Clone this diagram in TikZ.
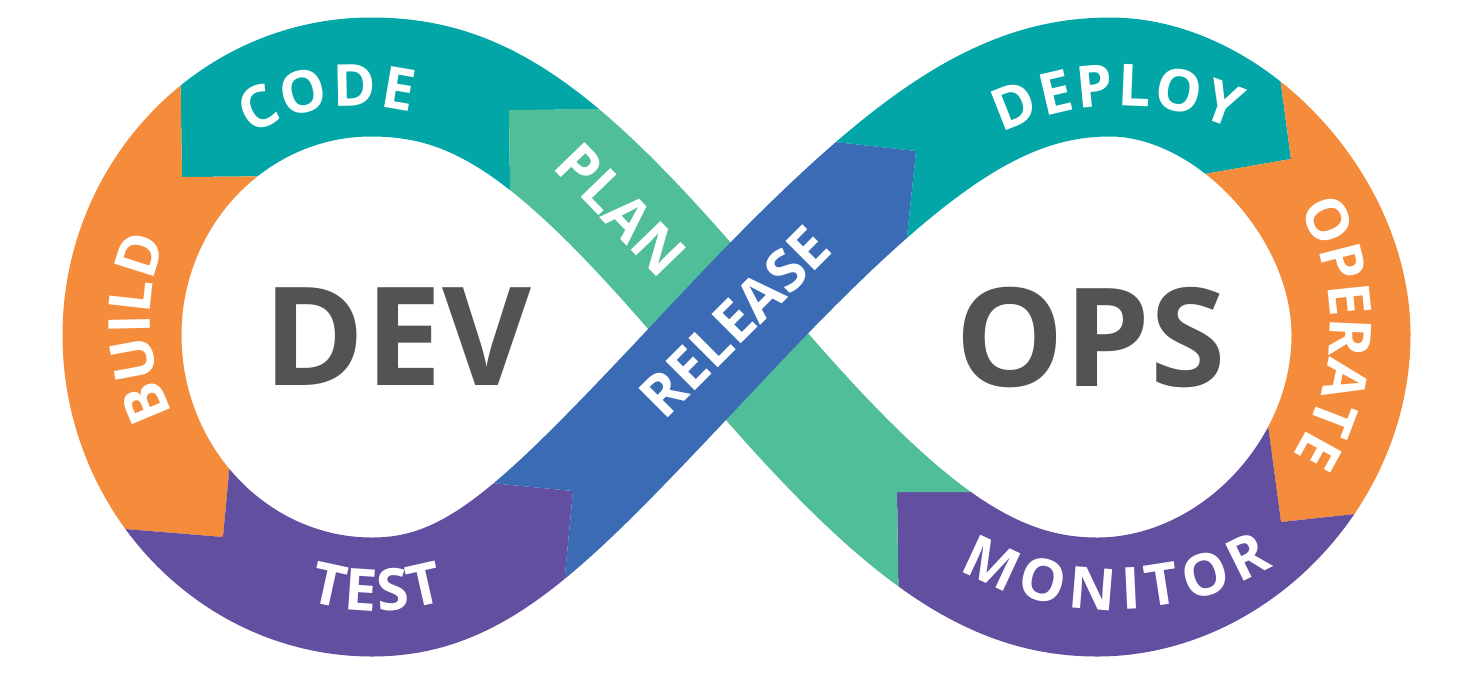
\documentclass[tikz,border=0pt]{standalone}
\usepackage{fontspec}
\setmainfont{Open Sans}
\usetikzlibrary{decorations.text}

\definecolor{bandteal}{HTML}{03A6A7}
\definecolor{bandorange}{HTML}{F58C3B}
\definecolor{bandpurple}{HTML}{634FA0}
\definecolor{bandblue}{HTML}{3A6BB4}
\definecolor{bandgreen}{HTML}{50BE98}
\definecolor{hubgray}{HTML}{535353}

\newcommand\bandfont{\fontsize{29}{32}\selectfont\bfseries}
% centre lines of the two loops and of the two crossing strands
\newcommand\devloop{(X) .. controls (561,-132) and (481,-77) .. (371,-77) .. controls (234,-77) and (122,-193) .. (122,-335) .. controls (122,-479) and (234,-597) .. (372,-597) .. controls (482,-597) and (550,-520) .. (X)}
\newcommand\opsloop{(X) .. controls (906,-142) and (1000,-77) .. (1110,-77) .. controls (1230,-77) and (1351,-206) .. (1351,-335) .. controls (1351,-474) and (1232,-597) .. (1097,-597) .. controls (987,-597) and (895,-530) .. (X)}
\newcommand\planstrand{(1097,-597) .. controls (987,-597) and (895,-530) .. (X) .. controls (561,-132) and (481,-77) .. (371,-77)}
\newcommand\releasestrand{(372,-597) .. controls (482,-597) and (550,-520) .. (X) .. controls (906,-142) and (1000,-77) .. (1110,-77)}

\tikzset{
  band/.style={line width=59.5pt},
  hub/.style={font=\fontsize{68.5}{70}\selectfont\bfseries, text=hubgray, inner sep=0pt},
  strandlabel/.style={font=\bandfont, text=white, inner sep=0pt},
  bandlabel/.style n args={2}{decorate, decoration={text along path, text align=center, text color=white,
    text={|\bandfont\kern#1|#2}}}
}

\begin{document}
\begin{tikzpicture}[x=0.5pt,y=0.5pt]
\useasboundingbox (0,0) rectangle (1484,-677);
\coordinate (X) at (728,-331);

% DEV loop
\begin{scope}
  \clip (179,20) -- (182,-177) -- (300,-176) -- (400,-300) -- (511,-260) -- (509,-110) -- (680,-109) -- (680,20) -- cycle;
  \draw[band, bandteal] \devloop;
\end{scope}
\begin{scope}
  \clip (-20,20) -- (179,20) -- (182,-177) -- (300,-176) -- (300,-420) -- (233,-430) -- (223,-537) -- (40,-522) -- (-20,-522) -- cycle;
  \draw[band, bandorange] \devloop;
\end{scope}
\begin{scope}
  \clip (-20,-522) -- (40,-522) -- (223,-537) -- (233,-430) -- (400,-430) -- (460,-480) -- (573,-491) -- (553,-700) -- (-20,-700) -- cycle;
  \draw[band, bandpurple] \devloop;
\end{scope}

% OPS loop
\begin{scope}
  \clip (790,-137) -- (916,-151) -- (903,-275) -- (1000,-300) -- (1170,-180) -- (1291,-159) -- (1267,20) -- (790,20) -- cycle;
  \draw[band, bandteal] \opsloop;
\end{scope}
\begin{scope}
  \clip (1267,20) -- (1500,20) -- (1500,-499) -- (1420,-507) -- (1281,-522) -- (1262,-380) -- (1170,-180) -- (1291,-159) -- cycle;
  \draw[band, bandorange] \opsloop;
\end{scope}
\begin{scope}
  \clip (897,-492) -- (1020,-492) -- (1150,-420) -- (1262,-380) -- (1281,-522) -- (1420,-507) -- (1500,-499) -- (1500,-700) -- (900,-700) -- cycle;
  \draw[band, bandpurple] \opsloop;
\end{scope}

% crossing strands, release on top
\begin{scope}
  \clip (509,-110) -- (720,-108) -- (1060,-450) -- (1020,-492) -- (897,-492) -- (900,-700) -- (600,-700) -- (511,-260) -- cycle;
  \draw[band, bandgreen] \planstrand;
\end{scope}
\begin{scope}
  \clip (380,-460) -- (460,-480) -- (573,-491) -- (553,-700) -- (820,-700) -- (903,-275) -- (916,-151) -- (790,-137) -- (600,-180) -- cycle;
  \draw[band, bandblue] \releasestrand;
\end{scope}

% labels round the loops
\path[bandlabel={1.25pt}{CODE}] (358,-319) ++(148.3:212.8) arc[start angle=148.3, end angle=48.3, radius=212.8];
\path[bandlabel={0pt}{BUILD}] (345,-320) ++(232.3:194.8) arc[start angle=232.3, end angle=132.3, radius=194.8];
\path[bandlabel={1.15pt}{TEST}] (375,-371) ++(220.2:239.7) arc[start angle=220.2, end angle=320.2, radius=239.7];
\path[bandlabel={1.2pt}{DEPLOY}] (1121,-379) ++(141:273.3) arc[start angle=141, end angle=41, radius=273.3];
\path[bandlabel={0.1pt}{OPERATE}] (1092,-326) ++(48.5:238.3) arc[start angle=48.5, end angle=-51.5, radius=238.3];
\path[bandlabel={3.7pt}{MONITOR}] (1113,-294) ++(220:315.7) arc[start angle=220, end angle=320, radius=315.7];

\node[strandlabel, rotate=-46] (plan) at (621,-209.5) {PLAN};
\node[strandlabel, rotate=45] (release) at (735,-321.5) {RELEASE};
\node[hub] (dev) at (397.5,-337) {DEV};
\node[hub] (ops) at (1091,-337) {OPS};
\end{tikzpicture}
\end{document}
